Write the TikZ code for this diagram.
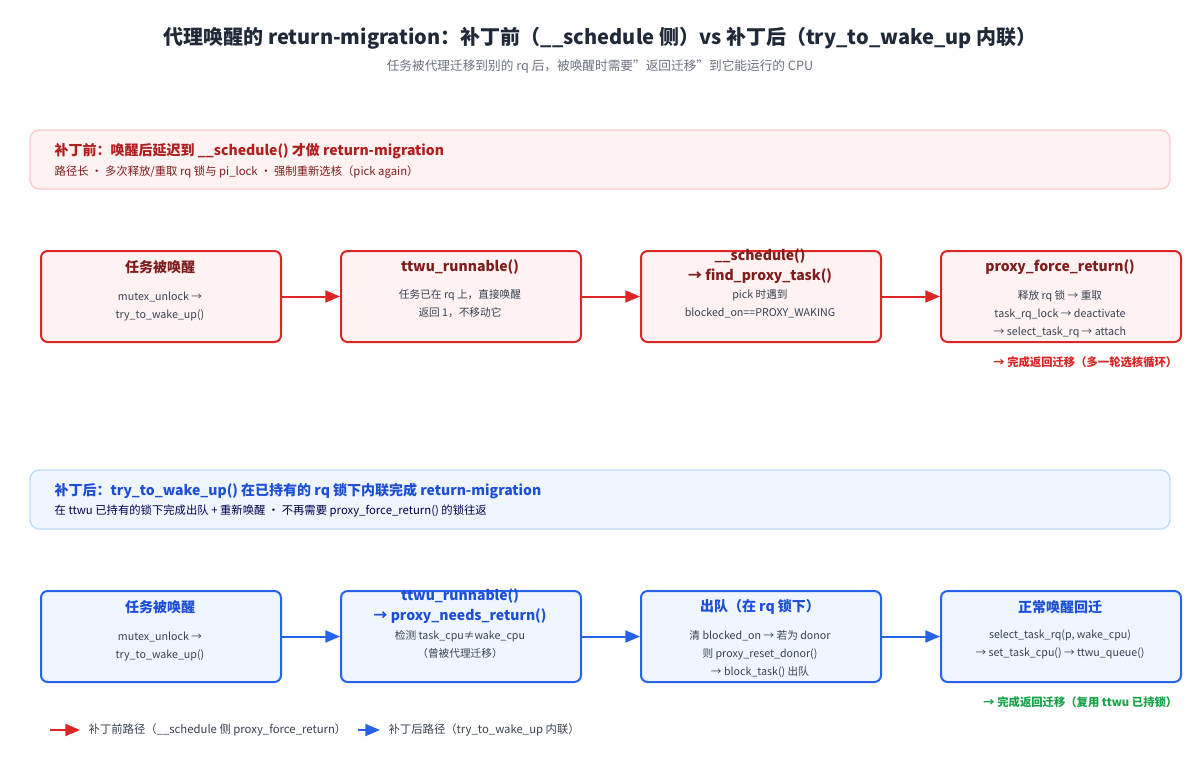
\documentclass[tikz,border=0pt]{standalone}
\usepackage{fontspec}
\setmainfont{Noto Sans CJK SC}
\usetikzlibrary{arrows.meta}
\definecolor{rd}{HTML}{DC2626}
\definecolor{rdt}{HTML}{7F1D1D}
\definecolor{rdb}{HTML}{FEF2F2}
\definecolor{rbb}{HTML}{FECACA}
\definecolor{bl}{HTML}{2563EB}
\definecolor{blt}{HTML}{1D4ED8}
\definecolor{blb}{HTML}{EFF6FF}
\definecolor{bbb}{HTML}{BFDBFE}
\definecolor{tx}{HTML}{1F2937}
\definecolor{gy}{HTML}{6B7280}
\definecolor{bd}{HTML}{374151}
\definecolor{gn}{HTML}{16A34A}
\tikzset{
 box/.style={draw, line width=1.5pt, rounded corners=5pt, minimum width=240*0.75pt, minimum height=91*0.75pt, anchor=north west},
 rbox/.style={box, draw=rd, fill=rdb},
 bbox/.style={box, draw=bl, fill=blb},
 ttl/.style={font=\bfseries\fontsize{10.5}{12}\selectfont, align=center},
 bod/.style={font=\fontsize{8}{13.5}\selectfont, text=bd, align=center},
 rar/.style={draw=rd, line width=1.5pt, -{Triangle[length=11pt,width=9pt]}},
 bar/.style={draw=bl, line width=1.5pt, -{Triangle[length=11pt,width=9pt]}},
}
\begin{document}
\begin{tikzpicture}[x=0.75pt,y=-0.75pt]
\useasboundingbox (0,0) rectangle (1200,760);
\fill[white] (0,0) rectangle (1200,760);
\node[font=\bfseries\fontsize{15}{18}\selectfont, text=tx] (title) at (600,38) {代理唤醒的 return-migration：补丁前（\_\_schedule 侧）vs 补丁后（try\_to\_wake\_up 内联）};
\node[font=\fontsize{9.5}{12}\selectfont, text=gy] (sub) at (600,67) {任务被代理迁移到别的 rq 后，被唤醒时需要"返回迁移"到它能运行的 CPU};
% banners
\draw[rbb, fill=rdb, line width=1pt, rounded corners=7pt] (30,130) rectangle (1170,189);
\node[anchor=west, font=\bfseries\fontsize{10.5}{12}\selectfont, text=rd!80!black] (b1t) at (50,151) {补丁前：唤醒后延迟到 \_\_schedule() 才做 return-migration};
\node[anchor=west, font=\fontsize{8.5}{10}\selectfont, text=rdt] (b1s) at (50,172) {路径长 · 多次释放/重取 rq 锁与 pi\_lock · 强制重新选核（pick again）};
\draw[bbb, fill=blb, line width=1pt, rounded corners=7pt] (30,470) rectangle (1170,529);
\node[anchor=west, font=\bfseries\fontsize{10.5}{12}\selectfont, text=blt] (b2t) at (50,491) {补丁后：try\_to\_wake\_up() 在已持有的 rq 锁下内联完成 return-migration};
\node[anchor=west, font=\fontsize{8.5}{10}\selectfont, text=blue!30!black] (b2s) at (50,511) {在 ttwu 已持有的锁下完成出队 + 重新唤醒 · 不再需要 proxy\_force\_return() 的锁往返};
% row 1
\node[rbox] (r1) at (40,250) {};
\node[rbox] (r2) at (340,250) {};
\node[rbox] (r3) at (640,250) {};
\node[rbox] (r4) at (940,250) {};
\node[ttl, text=rdt] at (160,267) {任务被唤醒};
\node[bod] at (160,306) {mutex\_unlock →\\try\_to\_wake\_up()};
\node[ttl, text=rdt] at (460,267) {ttwu\_runnable()};
\node[bod] at (460,304) {任务已在 rq 上，直接唤醒\\返回 1，不移动它};
\node[ttl, text=rdt, font=\bfseries\fontsize{10.5}{14.5}\selectfont] at (760,266) {\_\_schedule()\\→ find\_proxy\_task()};
\node[bod] at (760,304) {pick 时遇到\\blocked\_on==PROXY\_WAKING};
\node[ttl, text=rdt] at (1060,267) {proxy\_force\_return()};
\node[bod] at (1060,314) {释放 rq 锁 → 重取\\task\_rq\_lock → deactivate\\→ select\_task\_rq → attach};
\draw[rar] (r1.east) -- (r2.west);
\draw[rar] (r2.east) -- (r3.west);
\draw[rar] (r3.east) -- (r4.west);
\node[anchor=east, font=\bfseries\fontsize{8.5}{10}\selectfont, text=rd] (n1) at (1182,362) {→ 完成返回迁移（多一轮选核循环）};
% row 2
\node[bbox] (s1) at (40,590) {};
\node[bbox] (s2) at (340,590) {};
\node[bbox] (s3) at (640,590) {};
\node[bbox] (s4) at (940,590) {};
\node[ttl, text=blt] at (160,607) {任务被唤醒};
\node[bod] at (160,646) {mutex\_unlock →\\try\_to\_wake\_up()};
\node[ttl, text=blt, font=\bfseries\fontsize{10.5}{14.5}\selectfont] at (460,606) {ttwu\_runnable()\\→ proxy\_needs\_return()};
\node[bod] at (460,644) {检测 task\_cpu≠wake\_cpu\\（曾被代理迁移）};
\node[ttl, text=blt] at (760,607) {出队（在 rq 锁下）};
\node[bod] at (760,654) {清 blocked\_on → 若为 donor\\则 proxy\_reset\_donor()\\→ block\_task() 出队};
\node[ttl, text=blt] at (1060,607) {正常唤醒回迁};
\node[bod] at (1060,644) {select\_task\_rq(p, wake\_cpu)\\→ set\_task\_cpu() → ttwu\_queue()};
\draw[bar] (s1.east) -- (s2.west);
\draw[bar] (s2.east) -- (s3.west);
\draw[bar] (s3.east) -- (s4.west);
\node[anchor=east, font=\bfseries\fontsize{8.5}{10}\selectfont, text=gn] (n2) at (1182,702) {→ 完成返回迁移（复用 ttwu 已持锁）};
% legend
\coordinate (l1a) at (50,730); \coordinate (l1b) at (80,730);
\coordinate (l2a) at (358,730); \coordinate (l2b) at (380,730);
\draw[rar] (l1a) -- (l1b);
\node[anchor=west, font=\fontsize{8.5}{10}\selectfont, text=bd] (lg1) at (84,730) {补丁前路径（\_\_schedule 侧 proxy\_force\_return）};
\draw[bar] (l2a) -- (l2b);
\node[anchor=west, font=\fontsize{8.5}{10}\selectfont, text=bd] (lg2) at (384,730) {补丁后路径（try\_to\_wake\_up 内联）};
\end{tikzpicture}
\end{document}
